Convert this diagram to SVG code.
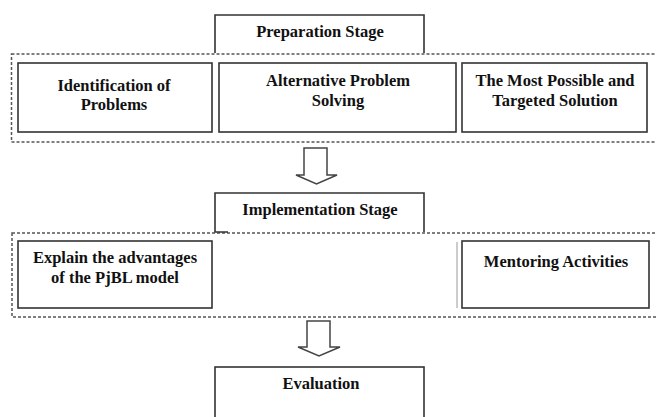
<svg xmlns="http://www.w3.org/2000/svg" width="656" height="417" viewBox="0 0 656 417">
<style>
.box{fill:none;stroke:#333;stroke-width:1.6}
.dash{fill:none;stroke:#555;stroke-width:1.5;stroke-dasharray:3 2}
.arrow{fill:#fff;stroke:#444;stroke-width:1.5;stroke-linejoin:miter}
text{font-family:"Liberation Serif","DejaVu Serif",serif;font-weight:bold;font-size:16.5px;fill:#111;text-anchor:middle}
</style>
<rect width="656" height="417" fill="#fff"/>
<g id="prep-group">
<rect class="dash" x="11.5" y="54" width="660" height="88"/>
</g>
<g id="impl-group">
<rect class="dash" x="12" y="233" width="660" height="84"/>
</g>
<g id="preparation">
<path class="box" d="M215,53 V15 H424 V53"/>
<text x="320" y="37">Preparation Stage</text>
</g>
<g id="identification">
<rect class="box" x="18" y="63" width="194" height="69"/>
<text x="114" y="91">Identification of</text>
<text x="114" y="110">Problems</text>
</g>
<g id="alternative">
<rect class="box" x="219" y="63" width="237" height="69"/>
<text x="338" y="86">Alternative Problem</text>
<text x="338" y="106">Solving</text>
</g>
<g id="targeted">
<rect class="box" x="462" y="63" width="185" height="69"/>
<text x="555" y="86">The Most Possible and</text>
<text x="555" y="106">Targeted Solution</text>
</g>
<g id="implementation">
<path class="box" d="M228,232 H215 V193 H424 V232"/>
<text x="320" y="215">Implementation Stage</text>
</g>
<g id="explain">
<rect class="box" x="18" y="241" width="194" height="67"/>
<text x="115" y="263">Explain the advantages</text>
<text x="115" y="283">of the PjBL model</text>
</g>
<g id="mentoring">
<line x1="457" y1="242" x2="457" y2="308" stroke="#999" stroke-width="1"/>
<rect class="box" x="462" y="241" width="187" height="67"/>
<text x="556" y="267">Mentoring Activities</text>
</g>
<g id="evaluation">
<rect class="box" x="215" y="367" width="209" height="60"/>
<text x="321" y="389">Evaluation</text>
</g>
<g id="connectors">
<path class="arrow" d="M304,148 H327 V175 H337 L316.5,184 L296,175 H304 Z"/>
<path class="arrow" d="M307,321 H330 V347 H340 L319,356 L298,347 H307 Z"/>
</g>
</svg>
